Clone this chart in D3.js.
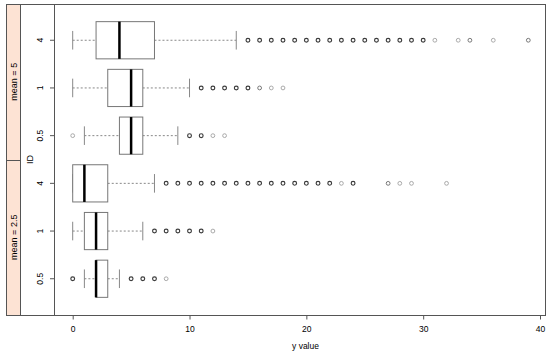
<!DOCTYPE html>
<meta charset="utf-8">
<style>
  body { margin: 0; background: #fff; }
  text { font-family: "Liberation Sans", Arial, sans-serif; fill: #000; }
</style>
<svg width="550" height="357"></svg>
<script src="https://d3js.org/d3.v7.min.js"></script>
<script>

// rows from top to bottom
var panels = ["mean = 5", "mean = 2.5"];
var rowPanel = [0, 0, 0, 1, 1, 1];
var rowId    = ["4", "1", "0.5", "4", "1", "0.5"];

// five-number summaries per row
var whiskLo = [0, 0, 1, 0, 0, 1];
var q1      = [2, 3, 4, 0, 1, 2];
var med     = [4, 5, 5, 1, 2, 2];
var q3      = [7, 6, 6, 3, 3, 3];
var whiskHi = [14, 10, 9, 7, 6, 4];

// outliers per row, and rough number of overlapping points (darkness)
var outVals = [
  [15,16,17,18,19,20,21,22,23,24,25,26,27,28,29,30,31,33,34,36,39],
  [11,12,13,14,15,16,17,18],
  [0,10,11,12,13],
  [8,9,10,11,12,13,14,15,16,17,18,19,20,21,22,23,24,27,28,29,32],
  [7,8,9,10,11,12],
  [0,5,6,7,8]
];
var outCount = [
  [3,3,3,3,3,3,3,3,3,3,3,3,3,3,3,3,1,1,2,1,2],
  [3,3,3,3,3,2,1,1],
  [1,3,3,1,1],
  [3,3,3,3,3,3,3,3,3,3,3,3,3,3,3,1,3,2,1,1,1],
  [3,3,3,3,3,1],
  [3,3,3,3,1]
];

var xTicks = [0, 10, 20, 30, 40];

var svg = d3.select("svg");
var pLeft = 54, pRight = 545, pTop = 4, pBottom = 315;

var x = d3.scaleLinear().domain([0, 40]).range([72.7, 540]);
var y = d3.scalePoint().domain(d3.range(6)).range([pTop, pBottom]).padding(0.76);
var step = y.step();
var boxH = step * 0.78;

var shade = function(n) { return n >= 3 ? "#3a3a3a" : (n == 2 ? "#6a6a6a" : "#a0a0a0"); };

// strips on the left
var divider = (y(2) + y(3)) / 2;
var stripBounds = [[pTop, divider], [divider, pBottom]];
panels.forEach(function(p, i) {
  var b = stripBounds[i];
  svg.append("rect")
    .attr("x", 6.5).attr("y", Math.round(b[0]) + 0.5)
    .attr("width", 14).attr("height", Math.round(b[1]) - Math.round(b[0]))
    .attr("fill", "#fde3d4")
    .attr("stroke", "#555");
  svg.append("text")
    .attr("transform", "translate(16.5," + ((b[0] + b[1]) / 2) + ") rotate(-90)")
    .attr("text-anchor", "middle")
    .attr("font-size", "9px")
    .text(p);
});

// outer frame lines
svg.append("line").attr("x1", 6).attr("x2", pRight).attr("y1", pTop + 0.5).attr("y2", pTop + 0.5).attr("stroke", "#555");
svg.append("line").attr("x1", 6).attr("x2", pRight).attr("y1", pBottom + 0.5).attr("y2", pBottom + 0.5).attr("stroke", "#555");
svg.append("rect")
  .attr("x", pLeft + 0.5).attr("y", pTop + 0.5)
  .attr("width", pRight - pLeft).attr("height", pBottom - pTop)
  .attr("fill", "none").attr("stroke", "#555");

// left axis (ID)
var yAxis = svg.append("g");
d3.range(6).forEach(function(i) {
  yAxis.append("line")
    .attr("x1", pLeft - 4).attr("x2", pLeft).attr("y1", y(i)).attr("y2", y(i))
    .attr("stroke", "#555");
  yAxis.append("text")
    .attr("transform", "translate(43," + y(i) + ") rotate(-90)")
    .attr("text-anchor", "middle")
    .attr("font-size", "8.5px")
    .text(rowId[i]);
});
svg.append("text")
  .attr("transform", "translate(33," + divider + ") rotate(-90)")
  .attr("text-anchor", "middle")
  .attr("font-size", "9px")
  .text("ID");

// bottom axis
var xAxis = svg.append("g").attr("transform", "translate(0," + (pBottom + 0.5) + ")")
  .call(d3.axisBottom(x).tickValues(xTicks).tickSize(4).tickPadding(6));
xAxis.select(".domain").remove();
xAxis.selectAll("line").attr("stroke", "#555");
xAxis.selectAll("text").attr("font-size", "8.5px").attr("font-family", "Liberation Sans, Arial, sans-serif");

svg.append("text")
  .attr("x", (pLeft + pRight) / 2 + 6).attr("y", 349)
  .attr("text-anchor", "middle")
  .attr("font-size", "8.5px")
  .text("y value");

// boxes
var rows = svg.append("g");
d3.range(6).forEach(function(i) {
  var cy = y(i), g = rows.append("g");
  // whiskers
  [[whiskLo[i], q1[i]], [q3[i], whiskHi[i]]].forEach(function(w) {
    if (w[1] > w[0])
      g.append("line")
        .attr("x1", x(w[0])).attr("x2", x(w[1])).attr("y1", cy).attr("y2", cy)
        .attr("stroke", "#888").attr("stroke-dasharray", "2,2");
  });
  [whiskLo[i], whiskHi[i]].forEach(function(v) {
    g.append("line")
      .attr("x1", x(v)).attr("x2", x(v))
      .attr("y1", cy - boxH / 4).attr("y2", cy + boxH / 4)
      .attr("stroke", "#888");
  });
  g.append("rect")
    .attr("x", x(q1[i])).attr("y", cy - boxH / 2)
    .attr("width", x(q3[i]) - x(q1[i])).attr("height", boxH)
    .attr("fill", "#fff").attr("stroke", "#777");
  g.append("line")
    .attr("x1", x(med[i])).attr("x2", x(med[i]))
    .attr("y1", cy - boxH / 2).attr("y2", cy + boxH / 2)
    .attr("stroke", "#000").attr("stroke-width", 2.5);
  g.selectAll("circle")
    .data(outVals[i])
    .enter().append("circle")
      .attr("cx", function(d) { return x(d); })
      .attr("cy", cy)
      .attr("r", 1.9)
      .attr("fill", "none")
      .attr("stroke", function(d, j) { return shade(outCount[i][j]); })
      .attr("stroke-width", function(d, j) { return outCount[i][j] >= 3 ? 1.15 : 0.9; });
});
</script>
